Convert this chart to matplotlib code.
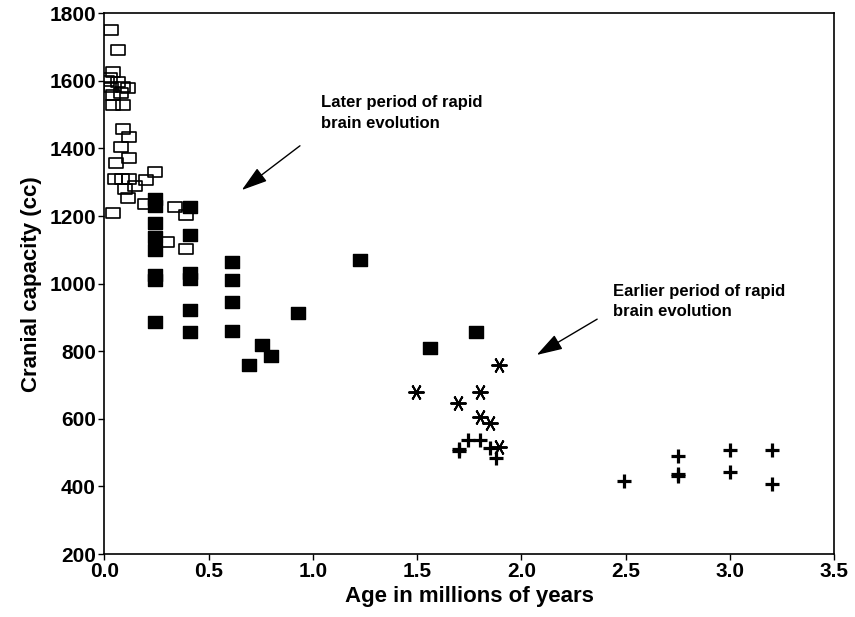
import matplotlib
matplotlib.use('Agg')
import matplotlib.pyplot as plt
from matplotlib.path import Path

# open squares (later Homo)
open_age = [0.034, 0.068, 0.042, 0.015, 0.026, 0.066, 0.034, 0.09, 0.114, 0.042, 0.08,
            0.042, 0.09, 0.09, 0.12, 0.08, 0.117, 0.058, 0.245, 0.05, 0.085, 0.12,
            0.2, 0.149, 0.098, 0.114, 0.194, 0.042, 0.34, 0.394, 0.3, 0.394]
open_cc = [1750, 1690, 1627, 1600, 1608, 1598, 1583, 1583, 1578, 1558, 1563,
           1529, 1529, 1457, 1435, 1405, 1373, 1356, 1331, 1310, 1310, 1310,
           1307, 1290, 1280, 1253, 1235, 1208, 1228, 1202, 1122, 1104]

# filled squares (H. erectus)
filled_age = [0.243, 0.243, 0.41, 0.243, 0.243, 0.41, 0.243, 0.243, 0.243, 0.41, 0.41,
              0.61, 0.61, 0.61, 0.61, 0.41, 0.41, 0.243, 0.93, 0.755, 0.80, 0.695,
              1.226, 1.78, 1.56]
filled_cc = [1250, 1230, 1227, 1180, 1139, 1144, 1100, 1025, 1012, 1032, 1015,
             1065, 1011, 946, 861, 922, 857, 888, 912, 819, 786, 760,
             1070, 856, 809]

# asterisks
star_age = [1.89, 1.494, 1.80, 1.694, 1.80, 1.85, 1.89]
star_cc = [760, 680, 680, 646, 604, 589, 518]

# pluses
plus_age = [1.745, 1.80, 1.70, 1.70, 1.85, 1.88, 2.49, 2.75, 2.75, 2.75, 3.0, 3.0, 3.2, 3.2]
plus_cc = [538, 538, 511, 506, 513, 483, 416, 491, 437, 432, 508, 442, 508, 407]

plt.rcParams['font.family'] = ['Liberation Sans', 'DejaVu Sans']
plt.rcParams['font.weight'] = 'bold'

rect = Path([(-1, -0.72), (1, -0.72), (1, 0.72), (-1, 0.72), (-1, -0.72)],
            [Path.MOVETO, Path.LINETO, Path.LINETO, Path.LINETO, Path.CLOSEPOLY])
rect_f = Path([(-1, -0.8), (1, -0.8), (1, 0.8), (-1, 0.8), (-1, -0.8)],
              [Path.MOVETO, Path.LINETO, Path.LINETO, Path.LINETO, Path.CLOSEPOLY])

fig = plt.figure(figsize=(8.55, 6.17), dpi=100)
ax = fig.add_axes([0.122, 0.1021, 0.8538, 0.8763])

ax.plot(open_age, open_cc, linestyle='none', marker=rect, markersize=10.5,
        markerfacecolor='none', markeredgecolor='black', markeredgewidth=1.2)
ax.plot(filled_age, filled_cc, linestyle='none', marker=rect_f, markersize=10.5,
        markerfacecolor='black', markeredgecolor='black', markeredgewidth=1.0)
ax.plot(star_age, star_cc, linestyle='none', marker=(6, 2, 90), markersize=11.5,
        markeredgecolor='black', markeredgewidth=1.4)
ax.plot(plus_age, plus_cc, linestyle='none', marker='+', markersize=10.5,
        markeredgecolor='black', markeredgewidth=2.3)

# annotations
ax.annotate('', xy=(0.659, 1277), xytext=(0.938, 1408),
            arrowprops=dict(arrowstyle='-|>,head_length=1.6,head_width=0.5',
                            color='black', lw=1.0, shrinkA=0, shrinkB=0))
ax.text(1.039, 1506, 'Later period of rapid\nbrain evolution', ha='left', va='center',
        fontsize=12, fontweight='bold', linespacing=1.5)
ax.annotate('', xy=(2.073, 789), xytext=(2.363, 895),
            arrowprops=dict(arrowstyle='-|>,head_length=1.6,head_width=0.5',
                            color='black', lw=1.0, shrinkA=0, shrinkB=0))
ax.text(2.44, 947, 'Earlier period of rapid\nbrain evolution', ha='left', va='center',
        fontsize=12, fontweight='bold', linespacing=1.35)

ax.set_xlim(0, 3.5)
ax.set_ylim(200, 1800)
ax.set_xticks([0.0, 0.5, 1.0, 1.5, 2.0, 2.5, 3.0, 3.5])
ax.set_xticklabels(['0.0', '0.5', '1.0', '1.5', '2.0', '2.5', '3.0', '3.5'])
ax.set_yticks([200, 400, 600, 800, 1000, 1200, 1400, 1600, 1800])
ax.tick_params(direction='out', length=4, width=1.0, labelsize=15, pad=2)
for s in ax.spines.values():
    s.set_linewidth(1.2)

ax.set_xlabel('Age in millions of years', fontsize=16, fontweight='bold', labelpad=3)
ax.set_ylabel('Cranial capacity (cc)', fontsize=16, fontweight='bold', labelpad=5)

fig.savefig('out.png', dpi=100)
